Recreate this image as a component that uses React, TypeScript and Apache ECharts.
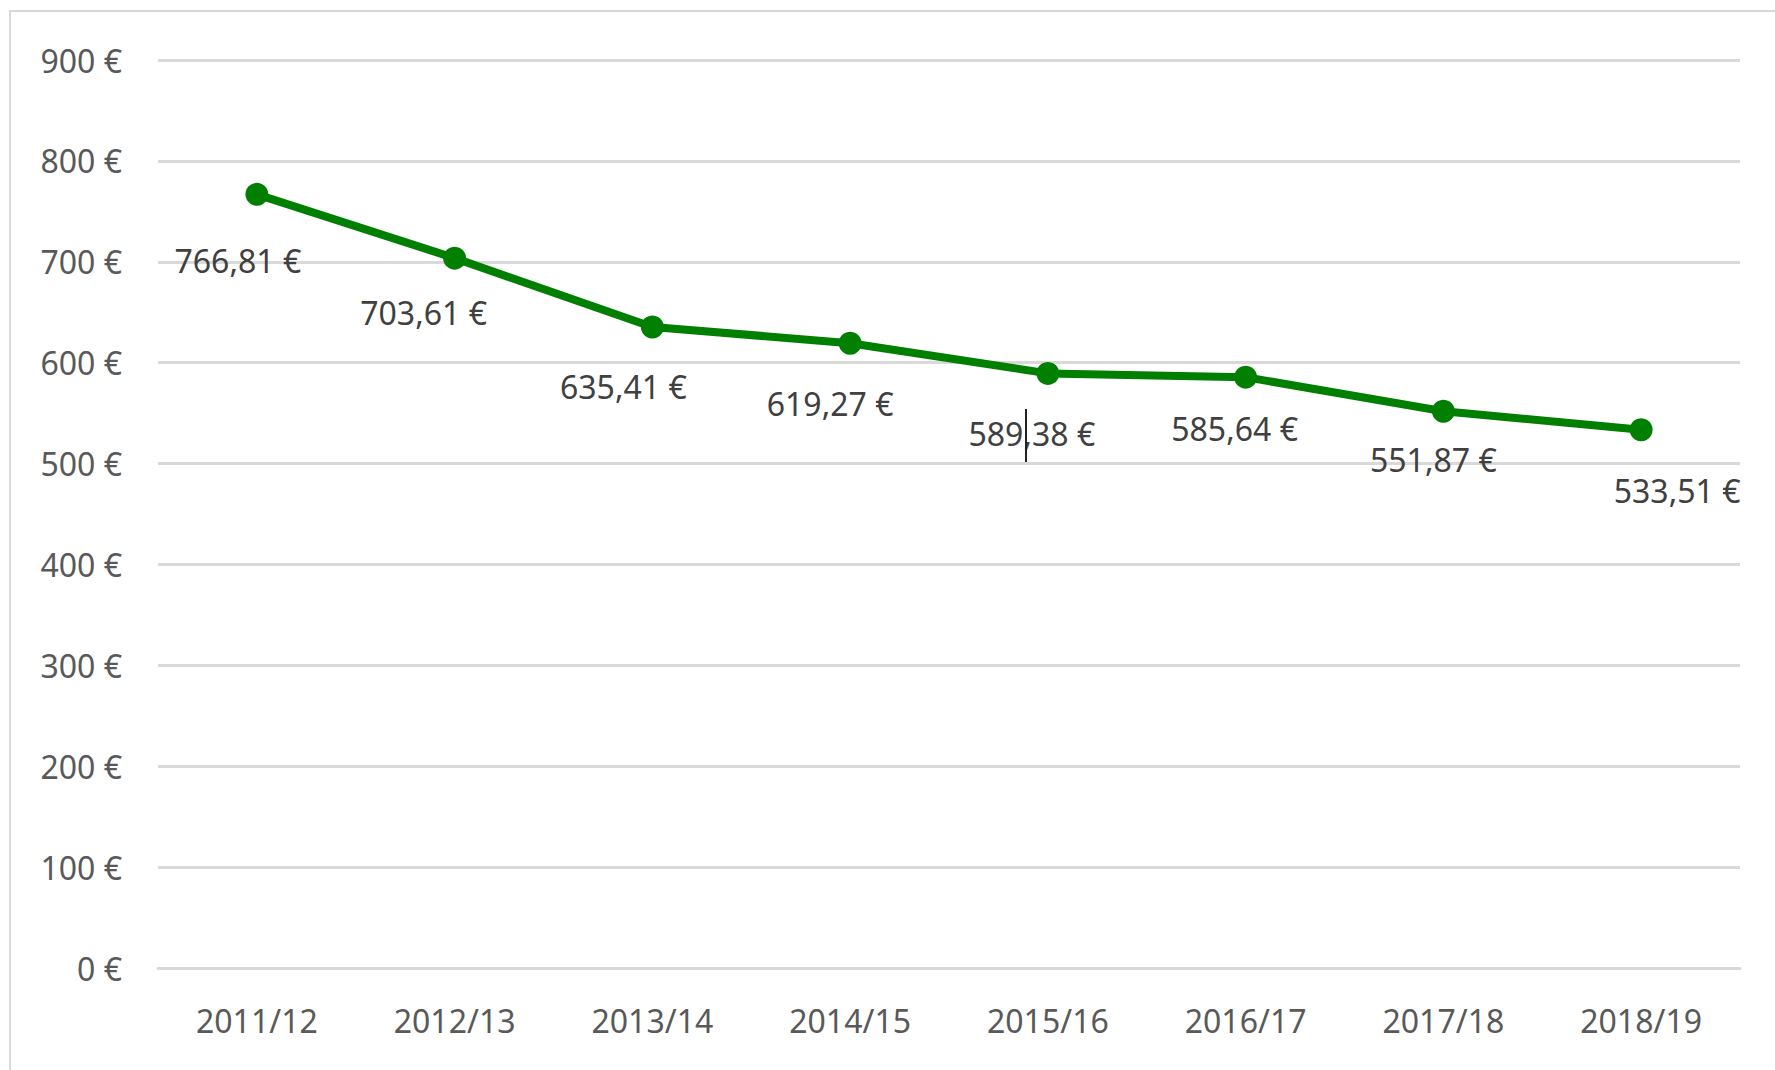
import React, { useEffect, useRef } from "react";
import * as echarts from "echarts";

// ---- data ----
const categories = ["2011/12", "2012/13", "2013/14", "2014/15", "2015/16", "2016/17", "2017/18", "2018/19"];
const values = [766.81, 703.61, 635.41, 619.27, 589.38, 585.64, 551.87, 533.51];
const yTicks = [0, 100, 200, 300, 400, 500, 600, 700, 800, 900];

// label placement (offset from the marker centre, px)
const labelOffsets: [number, number][] = [
  [-19, 66], [-31, 54], [-29, 60], [-20, 60], [-16, 60], [-11, 51], [-10, 48], [36, 61],
];

const FONT = "'Noto Sans', 'Open Sans', sans-serif";

export default function App() {
  const ref = useRef<HTMLDivElement>(null);
  useEffect(() => {
    document.body.style.margin = "0";
    const chart = echarts.init(ref.current!, null, { renderer: "svg" });
    const fmt = (v: number) => v.toFixed(2).replace(".", ",") + " €";
    chart.setOption({
      animation: false,
      backgroundColor: "#ffffff",
      grid: { left: 158, right: 35, top: 60, bottom: 102, containLabel: false },
      graphic: [
        {
          type: "rect",
          shape: { x: 10, y: 11, width: 1800, height: 1100 },
          style: { fill: "none", stroke: "#d9d9d9", lineWidth: 2 },
          silent: true,
        },
        {
          // text cursor visible in the original screenshot
          type: "line",
          shape: { x1: 1026, y1: 409, x2: 1026, y2: 462 },
          style: { stroke: "#222222", lineWidth: 2 },
          silent: true,
          z: 100,
        },
      ],
      xAxis: {
        type: "category",
        data: categories,
        boundaryGap: true,
        axisTick: { show: false },
        axisLine: { lineStyle: { color: "#d9d9d9", width: 3 } },
        axisLabel: { color: "#595959", fontFamily: FONT, fontSize: 32, margin: 36 },
      },
      yAxis: {
        type: "value",
        min: yTicks[0],
        max: yTicks[yTicks.length - 1],
        interval: 100,
        axisLine: { show: false },
        axisTick: { show: false },
        splitLine: { lineStyle: { color: "#d9d9d9", width: 3 } },
        axisLabel: {
          color: "#595959",
          fontFamily: FONT,
          fontSize: 32,
          margin: 36,
          formatter: (v: number) => `${v} €`,
        },
      },
      series: [
        {
          type: "line",
          data: values.map((v, i) => ({
            value: v,
            label: { offset: labelOffsets[i] },
          })),
          symbol: "circle",
          symbolSize: 23,
          lineStyle: { color: "#007f00", width: 8 },
          itemStyle: { color: "#007f00" },
          label: {
            show: true,
            position: "inside",
            align: "center",
            verticalAlign: "middle",
            color: "#404040",
            fontFamily: FONT,
            fontSize: 32,
            formatter: (p: any) => fmt(p.value),
          },
        },
      ],
    });
    return () => chart.dispose();
  }, []);
  return <div ref={ref} style={{ width: 1775, height: 1070 }} />;
}
